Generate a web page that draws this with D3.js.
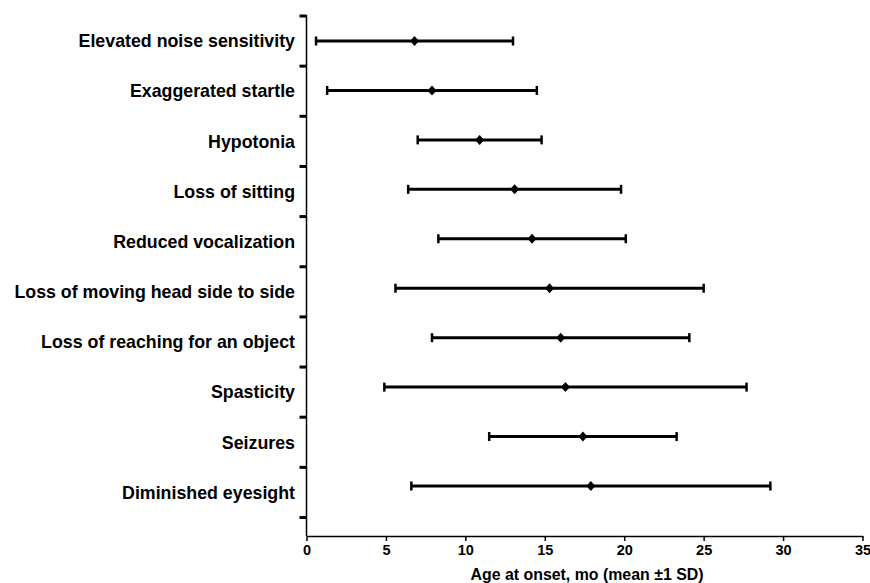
<!DOCTYPE html>
<html>
<head>
<meta charset="utf-8">
<script src="https://cdn.jsdelivr.net/npm/d3@7"></script>
<style>
  body { margin: 0; background: #fff; }
  text { font-family: "Liberation Sans", Arial, sans-serif; font-weight: bold; fill: #000; }
</style>
</head>
<body>
<svg id="chart" width="870" height="583"></svg>
<script>
// symptoms, top to bottom
const categories = [
    "Elevated noise sensitivity",
    "Exaggerated startle",
    "Hypotonia",
    "Loss of sitting",
    "Reduced vocalization",
    "Loss of moving head side to side",
    "Loss of reaching for an object",
    "Spasticity",
    "Seizures",
    "Diminished eyesight"
];
// age at onset in months
const means = [6.8, 7.9, 10.9, 13.1, 14.2, 15.3, 16.0, 16.3, 17.4, 17.9];
const sds = [6.2, 6.6, 3.9, 6.7, 5.9, 9.7, 8.1, 11.4, 5.9, 11.3];
const xTicks = [0, 5, 10, 15, 20, 25, 30, 35];
const xTitle = "Age at onset, mo (mean \u00b11 SD)";

const svg = d3.select("#chart");
const plotLeft = 306.5, plotRight = 862.5, plotTop = 16, plotBottom = 536;

const data = categories.map((c, i) => ({ name: c, mean: means[i], sd: sds[i] }));

const x = d3.scaleLinear().domain([0, 35]).range([plotLeft, plotRight]);

// category bands for labels + boundary ticks
const yBand = d3.scaleBand().domain(categories).range([plotTop, 517.5]);
// marker rows (slightly tighter than the bands, like the original)
const y = d3.scalePoint().domain(categories).range([41, 486]);

// x axis
const xAxis = svg.append("g")
    .attr("transform", `translate(0, ${plotBottom})`)
    .call(d3.axisBottom(x).tickValues(xTicks).tickSize(5).tickSizeOuter(0).tickPadding(4));
xAxis.select(".domain").attr("stroke", "#000").attr("stroke-width", 1.5);
xAxis.selectAll(".tick line").attr("stroke", "#000").attr("stroke-width", 1.5);
xAxis.selectAll(".tick text")
    .style("font-size", "14.5px")
    .style("font-family", "'Liberation Sans', Arial, sans-serif")
    .style("font-weight", "bold")
    .attr("fill", "#000");

svg.append("text")
    .attr("x", 587)
    .attr("y", 580)
    .attr("text-anchor", "middle")
    .style("font-size", "15.9px")
    .text(xTitle);

// y axis line
svg.append("line")
    .attr("x1", plotLeft).attr("x2", plotLeft)
    .attr("y1", plotTop - 1).attr("y2", plotBottom)
    .attr("stroke", "#000").attr("stroke-width", 1.5);

// boundary ticks
const bounds = categories.map(c => yBand(c)).concat([yBand.range()[1]]);
svg.append("g")
    .selectAll("line")
    .data(bounds)
    .join("line")
    .attr("x1", plotLeft - 7).attr("x2", plotLeft)
    .attr("y1", d => d).attr("y2", d => d)
    .attr("stroke", "#000").attr("stroke-width", 3);

// category labels
svg.append("g")
    .selectAll("text")
    .data(categories)
    .join("text")
    .attr("x", 295)
    .attr("y", d => yBand(d) + yBand.bandwidth() / 2)
    .attr("dy", "0.35em")
    .attr("text-anchor", "end")
    .style("font-size", "17.8px")
    .text(d => d);

// error bars
const rows = svg.append("g")
    .selectAll("g")
    .data(data)
    .join("g")
    .attr("transform", d => `translate(0, ${y(d.name)})`);

rows.append("line")
    .attr("x1", d => x(d.mean - d.sd))
    .attr("x2", d => x(d.mean + d.sd))
    .attr("stroke", "#000").attr("stroke-width", 3);

rows.selectAll("line.cap")
    .data(d => [d.mean - d.sd, d.mean + d.sd])
    .join("line")
    .attr("class", "cap")
    .attr("x1", v => x(v)).attr("x2", v => x(v))
    .attr("y1", -4.5).attr("y2", 4.5)
    .attr("stroke", "#000").attr("stroke-width", 2.5);

// mean diamonds
rows.append("path")
    .attr("transform", d => `translate(${x(d.mean)}, 0)`)
    .attr("d", "M0,-5L4.5,0L0,5L-4.5,0Z")
    .attr("fill", "#000");
</script>
</body>
</html>
